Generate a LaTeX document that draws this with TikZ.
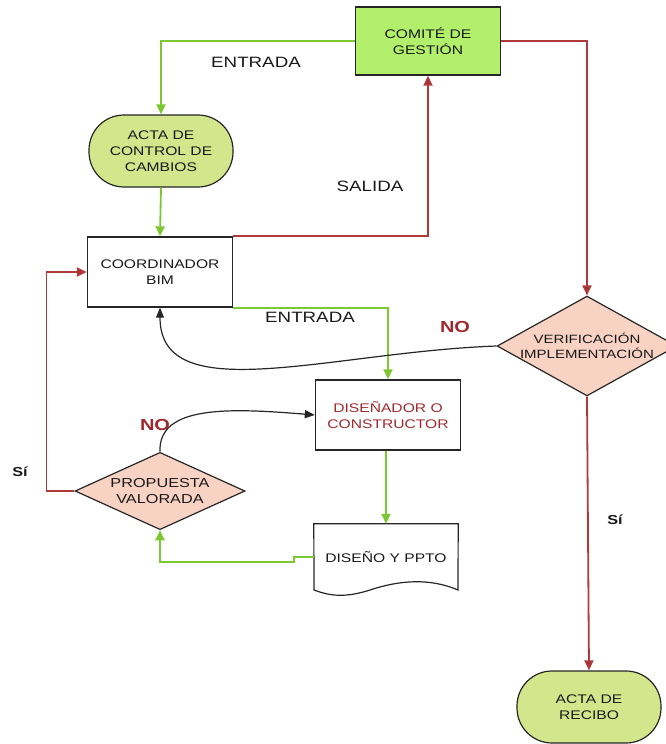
\documentclass[tikz,border=0pt]{standalone}
\usepackage{fontspec}
\setmainfont{Liberation Sans}[FakeStretch=1.25]
\usetikzlibrary{shapes.geometric,arrows.meta}
\definecolor{verdelinea}{HTML}{7DC832}
\definecolor{rojolinea}{HTML}{B03A3A}
\definecolor{verdecomite}{HTML}{B2F06C}
\definecolor{verdeacta}{HTML}{D4E68C}
\definecolor{salmon}{HTML}{F8D2C2}
\definecolor{rojotexto}{HTML}{9E2A2E}
\begin{document}
\begin{tikzpicture}[x=1pt,y=-1pt,
  box node/.style={rectangle,draw=black!85,line width=1.4pt,minimum width=145pt,minimum height=70pt,align=center,font=\fontsize{12.5}{16}\selectfont,text=black!90},
  term node/.style={rectangle,rounded corners=35pt,draw=black!85,line width=1.2pt,fill=verdeacta,minimum width=144pt,minimum height=72pt,align=center,font=\fontsize{12.5}{16}\selectfont,text=black!90},
  dec node/.style={diamond,draw=black!85,line width=1.2pt,fill=salmon,inner sep=0pt,align=center,font=\fontsize{12}{15}\selectfont,text=black!90},
  lbl/.style={font=\fontsize{15}{18}\selectfont,text=black!90},
  nolbl/.style={font=\fontsize{16}{18}\selectfont\bfseries,text=rojotexto},
  greenline/.style={draw=verdelinea,line width=1.8pt,-{Triangle[length=10pt,width=9pt]}},
  redline/.style={draw=rojolinea,line width=1.8pt,-{Triangle[length=10pt,width=9pt,fill=rojolinea!90!black]}},
  blackline/.style={draw=black!85,line width=1.2pt,-{Triangle[length=10pt,width=8pt]}}]

  \useasboundingbox (0,0) rectangle (666,744);

  \node[box node,fill=verdecomite,minimum height=68pt] at (428,41) (comite) {COMITÉ DE\\GESTIÓN};
  \node[term node] at (161,151) (acta) {ACTA DE\\CONTROL DE\\CAMBIOS};
  \node[box node] at (160,272) (coord) {COORDINADOR\\BIM};
  \node[dec node,aspect=1.8,minimum width=178pt] at (587,346) (verif) {VERIFICACIÓN\\IMPLEMENTACIÓN};
  \node[box node,text=rojotexto] at (388,415) (dis) {DISEÑADOR O\\CONSTRUCTOR};
  \node[dec node,aspect=1.9,minimum width=170pt,font=\fontsize{13}{16}\selectfont] at (160,491) (prop) {PROPUESTA\\VALORADA};
  \node[rectangle,minimum width=144pt,minimum height=66pt,font=\fontsize{12.5}{16}\selectfont,text=black!90] at (386,557) (doc) {DISEÑO Y PPTO};
  \node[term node] at (589,707) (recibo) {ACTA DE\\RECIBO};

  % documento con borde ondulado
  \draw[black!85,line width=1.2pt] (doc.north west) -- (doc.north east) -- (458,590)
    .. controls (430,578) and (400,580) .. (370,590)
    .. controls (345,598) and (330,596) .. (314,590) -- cycle;

  \node[lbl] at (256,62) (entrada1) {ENTRADA};
  \node[lbl] at (370,186) (salida) {SALIDA};
  \node[lbl] at (310,317) (entrada2) {ENTRADA};
  \node[nolbl] at (455,327) (no1) {NO};
  \node[nolbl] at (155,425) (no2) {NO};
  \node[lbl,font=\fontsize{13}{16}\selectfont\bfseries] at (20,472) (si1) {Sí};
  \node[lbl,font=\fontsize{13}{16}\selectfont\bfseries] at (615,520) (si2) {Sí};

  \draw[greenline] (comite.west) -| (acta.north);
  \draw[greenline] (acta.south) -- (coord.north);
  \draw[redline] (coord.north east) -| (comite.south);
  \draw[redline] (comite.east) -| (verif.north);
  \draw[greenline] (coord.south east) -| (dis.north);
  \draw[blackline] (verif.west) .. controls (330,352) and (160,410) .. (coord.south);
  \draw[redline] (verif.south) -- (recibo.north);
  \draw[redline] (prop.west) -- ++(-28,0) |- (coord.west);
  \draw[blackline] (prop.north) .. controls (158,405) and (230,408) .. (dis.west);
  \draw[greenline] (dis.south -| doc.north) -- (doc.north);
  \draw[greenline] (doc.west) -- ++(-20,0) -- ++(0,5) -| (prop.south);

\end{tikzpicture}
\end{document}
